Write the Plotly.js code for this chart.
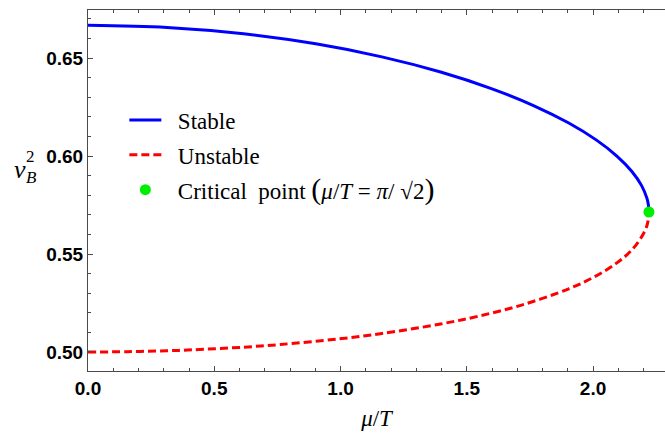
<!DOCTYPE html>
<html>
<head>
<meta charset="utf-8">
<script src="https://cdn.plot.ly/plotly-3.0.1.min.js"></script>
<style>html,body{margin:0;padding:0;background:#fff;}#chart{width:665px;height:436px;}</style>
</head>
<body>
<div id="chart"></div>
<script>
// Stable branch (mu/T, v_B^2)
const stableX = [0, 0.3126, 0.6160, 0.9019, 1.1636, 1.3963, 1.5974, 1.7664, 1.9040, 2.0124, 2.0944, 2.1531, 2.1918, 2.2136, 2.2190, 2.2214];
const stableY = [0.66667, 0.66556, 0.66234, 0.65723, 0.65060, 0.64286, 0.63441, 0.62563, 0.61682, 0.60823, 0.60000, 0.59225, 0.58503, 0.57837, 0.57524, 0.57143];
// Unstable branch
const unstableX = [0, 0.1569, 0.3126, 0.4152, 0.6160, 0.7616, 0.9921, 1.1636, 1.3963, 1.5432, 1.7136, 1.9040, 2.0017, 2.0944, 2.1584, 2.2046, 2.2176, 2.2214];
const unstableY = [0.50000, 0.50016, 0.50062, 0.50110, 0.50246, 0.50382, 0.50667, 0.50943, 0.51429, 0.51818, 0.52381, 0.53226, 0.53810, 0.54545, 0.55274, 0.56158, 0.56667, 0.57143];
// Critical point
const critX = [2.2214];
const critY = [0.57143];
const xTickVals = [0, 0.5, 1.0, 1.5, 2.0];
const xTickText = ["0.0", "0.5", "1.0", "1.5", "2.0"];
const yTickVals = [0.50, 0.55, 0.60, 0.65];
const yTickText = ["0.50", "0.55", "0.60", "0.65"];

const serif = "Liberation Serif, Times New Roman, serif";
const sans = "Liberation Sans, Arial, sans-serif";
const axisCol = "#4a4a4a";
const pad = "\u00a0\u00a0";

const traces = [
  {x: stableX, y: stableY, mode: "lines", name: pad + "Stable", legendgroup: "a",
   line: {color: "#0000ff", width: 3, shape: "spline"}},
  {x: unstableX, y: unstableY, mode: "lines", name: pad + "Unstable", legendgroup: "b",
   line: {color: "#ff0000", width: 3, dash: "8px,4px", shape: "spline"}},
  {x: critX, y: critY, mode: "markers", legendgroup: "c",
   name: pad + "Critical  point <span style=\"font-size:30px\">(</span><i>μ</i>/<i>T</i> = <i>π</i>/ √2<span style=\"font-size:30px\">)</span>",
   marker: {color: "#00ee00", size: 11}}
];

const layout = {
  width: 665, height: 436,
  margin: {l: 88, r: 0, t: 10, b: 65},
  paper_bgcolor: "#fff", plot_bgcolor: "#fff",
  showlegend: true,
  hovermode: false,
  legend: {x: 0.063, y: 0.755, xanchor: "left", yanchor: "top",
           font: {family: serif, size: 23, color: "#000"},
           tracegroupgap: 2, bgcolor: "rgba(0,0,0,0)", itemwidth: 32},
  xaxis: {range: [0, 2.285], showgrid: false, zeroline: false,
          showline: true, linecolor: axisCol, linewidth: 1, mirror: "allticks",
          ticks: "inside", ticklen: 5, tickcolor: axisCol, tickwidth: 1,
          tickvals: xTickVals, ticktext: xTickText,
          tickfont: {family: sans, size: 19, color: "#000", weight: "bold"},
          minor: {dtick: 0.1, ticks: "inside", ticklen: 3, tickcolor: axisCol, showgrid: false},
          title: {text: "<i>μ</i>/<i>T</i>", font: {family: serif, size: 23, color: "#000"}, standoff: 12}},
  yaxis: {range: [0.4903, 0.6745], showgrid: false, zeroline: false,
          showline: true, linecolor: axisCol, linewidth: 1, mirror: false,
          ticks: "inside", ticklen: 5, tickcolor: axisCol, tickwidth: 1,
          tickvals: yTickVals, ticktext: yTickText,
          tickfont: {family: sans, size: 19, color: "#000", weight: "bold"},
          minor: {dtick: 0.01, ticks: "inside", ticklen: 3, tickcolor: axisCol, showgrid: false}},
  annotations: [
    {xref: "paper", yref: "paper", x: 0, y: 0.558, xshift: -68, xanchor: "center", yanchor: "middle",
     text: "<i>v</i>", showarrow: false, font: {family: serif, size: 26, color: "#000"}},
    {xref: "paper", yref: "paper", x: 0, y: 0.558, xshift: -58, yshift: 13, xanchor: "center", yanchor: "middle",
     text: "2", showarrow: false, font: {family: serif, size: 17, color: "#000"}},
    {xref: "paper", yref: "paper", x: 0, y: 0.558, xshift: -57, yshift: -8, xanchor: "center", yanchor: "middle",
     text: "<i>B</i>", showarrow: false, font: {family: serif, size: 17, color: "#000"}}
  ]
};

Plotly.newPlot("chart", traces, layout, {staticPlot: true, displayModeBar: false});
</script>
</body>
</html>
